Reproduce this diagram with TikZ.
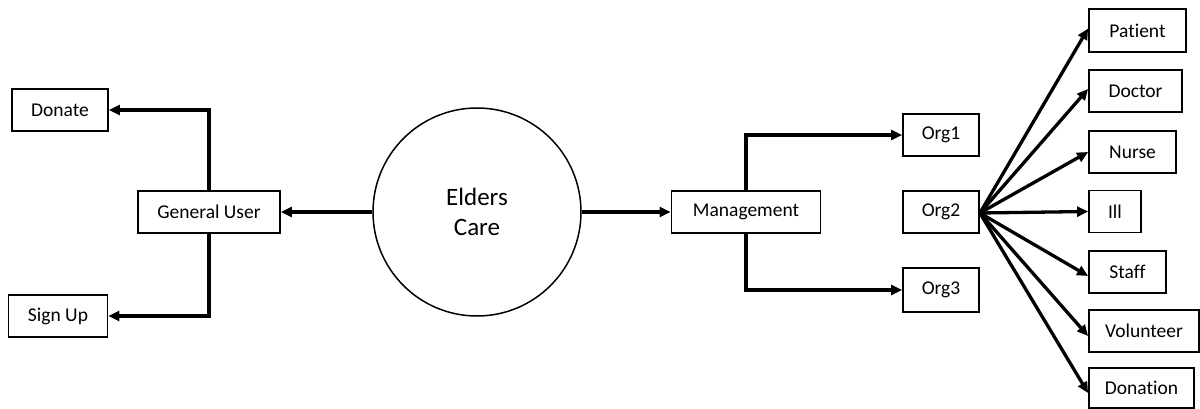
\documentclass[tikz,border=0pt]{standalone}
\usepackage{fontspec}
\setmainfont{Carlito}[Ligatures={NoCommon}]
\usetikzlibrary{arrows.meta}
\begin{document}
\begin{tikzpicture}[x=1pt,y=-1pt,
  box/.style={draw,line width=1.8pt,inner sep=0pt,minimum height=42pt,font=\fontsize{19.5}{22}\selectfont},
  conn/.style={line width=3.3pt,-{Triangle[length=11pt,width=10pt]}},
  hub/.style={draw,circle,line width=1.5pt,minimum size=208pt,inner sep=0pt,align=center,font=\fontsize{25}{30}\selectfont}]
\useasboundingbox (0,0) rectangle (1200,409);
\node[hub] (care) at (477,212) {Elders\\Care};
\node[box,minimum width=96pt] (donate) at (60,110) {Donate};
\node[box,minimum width=142pt] (gu) at (209,212) {General User};
\node[box,minimum width=99pt] (signup) at (58,316) {Sign Up};
\node[box,minimum width=149pt] (mgmt) at (746,212) {Management};
\node[box,minimum width=76pt] (org1) at (941,135) {Org1};
\node[box,minimum width=76pt] (org2) at (941,212) {Org2};
\node[box,minimum width=76pt,minimum height=44pt] (org3) at (941,290) {Org3};
\node[box,minimum width=97pt,minimum height=43pt] (patient) at (1137.5,30.5) {Patient};
\node[box,minimum width=93pt] (doctor) at (1135.5,91) {Doctor};
\node[box,minimum width=87pt] (nurse) at (1132.5,152) {Nurse};
\node[box,minimum width=52pt] (ill) at (1115,211.5) {Ill};
\node[box,minimum width=77pt] (staff) at (1127.5,272) {Staff};
\node[box,minimum width=110pt] (volunteer) at (1144,331) {Volunteer};
\node[box,minimum width=105pt,minimum height=40pt] (donation) at (1141.5,388) {Donation};
\draw[conn] (care.west) -- (gu.east);
\draw[conn] (care.east) -- (mgmt.west);
\draw[conn] (gu.north) |- (donate.east);
\draw[conn] (gu.south) |- (signup.east);
\draw[conn] (mgmt.north) |- (org1.west);
\draw[conn] (mgmt.south) |- (org3.west);
\coordinate (src) at ([yshift=-1pt]org2.east);
\draw[conn] (src) -- ([yshift=2pt]patient.west);
\draw[conn] (src) -- ([yshift=2pt]doctor.west);
\draw[conn] (src) -- (nurse.west);
\draw[conn] (src) -- (ill.west);
\draw[conn] (src) -- ([yshift=-4pt]staff.west);
\draw[conn] (src) -- ([yshift=-5pt]volunteer.west);
\draw[conn] (src) -- ([yshift=-5pt]donation.west);
\end{tikzpicture}
\end{document}
